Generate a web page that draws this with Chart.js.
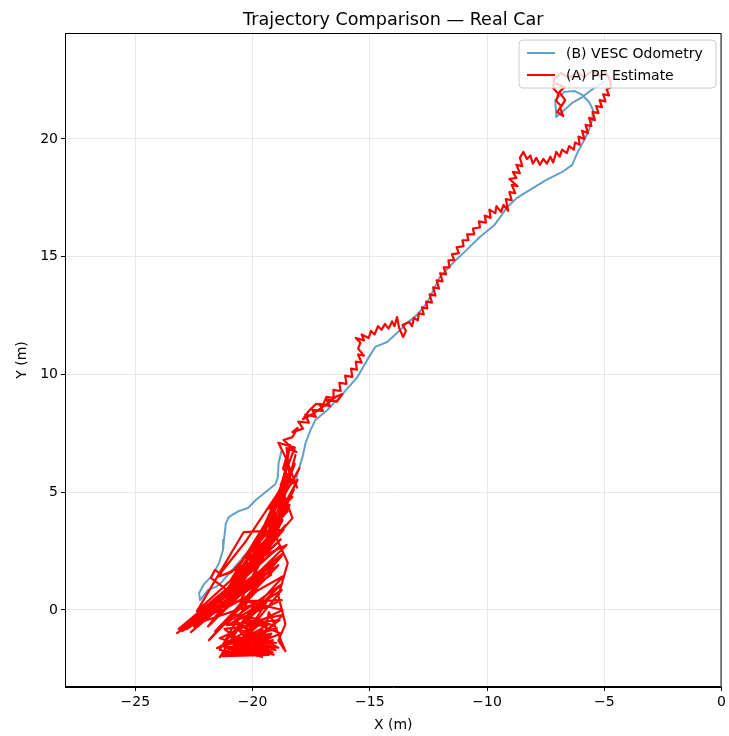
<!DOCTYPE html>
<html>
<head>
<meta charset="utf-8">
<script src="https://cdn.jsdelivr.net/npm/chart.js@4.4.0/dist/chart.umd.min.js"></script>
<style>
  html, body { margin: 0; padding: 0; background: #fff; }
  #wrap { width: 729px; height: 736px; }
</style>
</head>
<body>
<div id="wrap"><canvas id="chart" width="729" height="736"></canvas></div>
<script>
// axis ticks
const xTicks = [-25, -20, -15, -10, -5, 0];
const yTicks = [0, 5, 10, 15, 20];

// (B) VESC odometry, [x, y] in metres
const odomPath = [
  [-18.76, 6.79], [-18.89, 6.24], [-18.93, 5.61], [-19.02, 5.35], [-19.23, 5.18], [-19.86, 4.67],
  [-20.20, 4.33], [-20.59, 4.20], [-21.01, 3.95], [-21.14, 3.69], [-21.22, 2.97], [-21.26, 2.55],
  [-21.43, 2.00], [-21.69, 1.49], [-22.07, 1.10], [-22.28, 0.72], [-22.24, 0.42], [-21.90, 0.85],
  [-21.56, 0.98], [-21.31, 1.19], [-20.50, 2.12], [-19.65, 3.18], [-18.80, 4.25], [-18.25, 5.10],
  [-18.04, 5.94], [-17.87, 6.50], [-17.74, 7.09], [-17.53, 7.64], [-17.32, 8.07], [-16.81, 8.49],
  [-16.13, 9.21], [-15.53, 9.89], [-15.11, 10.62], [-14.77, 11.17], [-14.26, 11.38], [-13.84, 11.76],
  [-13.41, 12.19], [-12.99, 12.53], [-12.56, 13.04], [-12.01, 14.14], [-11.46, 14.73], [-10.87, 15.29],
  [-10.31, 15.84], [-9.68, 16.35], [-9.38, 16.77], [-9.17, 17.07], [-8.74, 17.49], [-8.19, 17.83],
  [-7.47, 18.26], [-6.79, 18.60], [-6.37, 18.90], [-6.15, 19.41], [-5.86, 19.96], [-5.65, 20.38],
  [-5.52, 20.81], [-5.48, 21.23], [-5.65, 21.57], [-5.94, 21.87], [-6.28, 22.04], [-6.71, 22.00],
  [-7.09, 21.66], [-7.05, 20.93], [-6.37, 21.53], [-5.94, 21.78], [-5.43, 22.17], [-5.01, 22.42]
];

// (A) particle filter estimate: the noisy start area, [x, y] in metres
const pfCluster = [
  [-21.3, -1.85], [-19.2, -1.55], [-21.1, -1.95], [-19.4, -1.3], [-20.7, -1.75], [-19.15, -1.8],
  [-20.9, -1.3], [-19.6, -1.65], [-21.2, -1.6], [-19.9, -1.45], [-20.4, -1.7], [-19.3, -1.2],
  [-20.1, -1.8], [-19.6, -2.0], [-20.8, -1.55], [-20.0, -1.2], [-21.0, -1.9], [-19.45, -0.95],
  [-20.3, -1.9], [-19.4, -1.5], [-20.9, -1.7], [-19.6, -1.2], [-21.3, -1.5], [-19.2, -1.0],
  [-20.6, -1.95], [-19.5, -1.8], [-21.0, -1.1], [-19.0, -1.4], [-20.4, -1.2], [-19.8, -1.95],
  [-21.2, -0.8], [-19.3, -0.6], [-20.7, -1.4], [-18.9, -1.6], [-20.2, -0.9], [-19.1, -1.9],
  [-21.4, -1.2], [-19.7, -0.4], [-20.8, -0.2], [-18.8, -1.0], [-20.0, -1.5], [-18.7, -0.2],
  [-20.5, -0.6], [-18.75, 1.1], [-21.6, -0.9], [-18.9, 1.9], [-22.5, -0.7], [-19.2, 1.5],
  [-23.0, -0.9], [-19.6, 1.3], [-22.7, -0.6], [-18.8, 3.0], [-22.1, -0.2], [-19.9, 1.9],
  [-23.15, -0.8], [-20.2, 0.9], [-22.4, -0.4], [-18.7, 2.4], [-21.9, -0.7], [-19.4, 2.6],
  [-21.3, 0.2], [-18.6, 3.6], [-21.0, 0.9], [-19.6, 3.2], [-20.4, 2.2], [-18.5, 4.2],
  [-20.9, 1.6], [-21.5, 1.4], [-20.3, 2.9], [-18.9, 5.0], [-19.9, 2.4], [-18.6, 5.6],
  [-19.5, 3.6], [-18.3, 4.8], [-19.3, 4.3], [-18.2, 6.2], [-18.9, 4.4], [-18.4, 7.0],
  [-18.7, 6.0], [-18.1, 5.2], [-18.6, 6.5], [-18.9, 7.1], [-18.2, 6.9], [-18.8, 5.3],
  [-18.3, 3.9], [-19.0, 3.1], [-18.5, 2.0], [-18.9, 0.6], [-18.6, -0.6], [-18.9, -1.3],
  [-18.6, -1.75], [-19.2, -0.3],
  [-19.31, -0.09], [-19.57, -1.62], [-20.50, -1.79], [-19.14, -1.28], [-21.27, -1.96], [-19.31, -1.91],
  [-21.01, -1.36], [-18.97, -0.77], [-21.52, -1.62], [-19.57, -0.51], [-21.40, -2.00], [-19.91, 0.25],
  [-22.20, -0.51], [-18.97, 2.04], [-22.80, -0.81], [-18.81, 2.72], [-23.22, -0.98], [-20.42, 1.14],
  [-22.97, -0.77], [-19.40, 1.87], [-22.63, -0.94], [-18.76, 2.29], [-21.86, -1.28], [-19.78, 0.85],
  [-21.44, -0.09], [-18.68, 1.44], [-21.18, -1.32], [-19.40, 0.34], [-20.84, -1.91], [-18.85, -0.43],
  [-21.10, -0.64], [-18.76, 0.42], [-21.61, 0.34], [-19.14, 2.97], [-21.99, -0.26], [-19.61, 2.46],
  [-22.37, -0.05], [-20.38, 3.31], [-18.68, 3.40], [-21.10, 0.51], [-18.64, 4.16], [-21.73, -0.51],
  [-19.19, 2.12], [-21.40, -1.70], [-20.08, -1.91], [-19.57, -0.85], [-20.29, -1.36], [-19.23, -1.11],
  [-20.59, -0.85], [-19.87, -1.70], [-20.16, -0.43], [-19.10, -0.64], [-19.74, -1.11], [-20.76, -0.43],
  [-18.76, 0.85], [-20.67, -1.49], [-19.02, -1.70], [-20.33, -0.77], [-18.72, 0.00], [-20.50, 0.42],
  [-18.72, 3.82], [-20.93, 1.27], [-18.85, 4.67], [-20.67, 0.76], [-18.42, 4.46], [-20.25, 1.70],
  [-18.68, 5.52], [-19.65, 2.12], [-18.25, 5.09], [-20.08, 1.27], [-18.55, 2.76], [-21.27, 1.48],
  [-21.61, 1.70], [-21.78, 1.36], [-21.10, 0.85], [-19.99, 2.55], [-18.30, 5.94], [-19.23, 3.40],
  [-18.08, 5.52], [-19.48, 2.76], [-18.51, 6.28], [-18.85, 4.03], [-18.17, 6.58], [-18.64, 4.88],
  [-18.00, 6.03], [-18.38, 5.31], [-18.55, 6.88], [-18.13, 6.71], [-18.68, 7.22], [-18.30, 7.34],
  [-18.08, 7.73]
];

// (A) particle filter estimate: the drive up to the top right, [x, y] in metres
const pfRoute = [
  [-18.30, 7.55], [-17.85, 7.70], [-18.05, 8.00], [-17.60, 7.95], [-17.75, 8.30], [-17.30, 8.20],
  [-17.45, 8.50], [-17.00, 8.45], [-17.15, 8.75], [-16.70, 8.65], [-16.85, 8.95], [-16.40, 8.85],
  [-16.17, 9.17], [-16.45, 9.05], [-16.90, 8.70], [-17.40, 8.35], [-17.85, 8.10], [-17.60, 8.45],
  [-17.30, 8.75], [-17.00, 8.70], [-16.85, 9.05], [-16.55, 9.00], [-16.55, 9.35], [-16.25, 9.30],
  [-16.30, 9.65], [-16.00, 9.60], [-16.05, 9.95], [-15.75, 9.90], [-15.80, 10.25], [-15.55, 10.20],
  [-15.60, 10.55], [-15.35, 10.50], [-15.50, 10.85], [-15.25, 10.80], [-15.50, 11.10], [-15.40, 11.35],
  [-15.60, 11.55], [-15.25, 11.45], [-15.35, 11.70], [-15.05, 11.55], [-14.95, 11.85], [-14.80, 11.70],
  [-14.65, 12.05], [-14.50, 11.90], [-14.35, 12.15], [-14.20, 11.95], [-14.05, 12.25], [-13.95, 12.05],
  [-13.84, 12.44], [-13.75, 11.97], [-13.58, 11.59], [-13.46, 11.85], [-13.60, 12.10], [-13.33, 12.23],
  [-13.20, 12.05], [-13.12, 12.40], [-12.95, 12.30], [-12.91, 12.60], [-12.70, 12.55], [-12.78, 12.85],
  [-12.55, 12.80], [-12.60, 13.10], [-12.35, 13.05], [-12.45, 13.40], [-12.20, 13.35], [-12.30, 13.70],
  [-12.05, 13.65], [-12.15, 14.00], [-11.90, 13.95], [-12.00, 14.30], [-11.75, 14.25], [-11.85, 14.55],
  [-11.60, 14.55], [-11.65, 14.85], [-11.40, 14.85], [-11.50, 15.10], [-11.20, 15.15], [-11.30, 15.40],
  [-11.00, 15.45], [-11.05, 15.70], [-10.80, 15.70], [-10.85, 15.95], [-10.55, 15.95], [-10.60, 16.20],
  [-10.30, 16.25], [-10.35, 16.50], [-10.05, 16.45], [-10.10, 16.75], [-9.85, 16.65], [-9.90, 17.00],
  [-9.65, 16.85], [-9.60, 17.15], [-9.40, 16.90], [-9.30, 17.20], [-9.10, 16.95], [-9.20, 17.45],
  [-8.95, 17.40], [-9.05, 17.75], [-8.80, 17.70], [-8.95, 18.05], [-8.70, 18.00], [-9.05, 18.30],
  [-8.75, 18.35], [-8.90, 18.60], [-8.60, 18.55], [-8.75, 18.90], [-8.50, 18.85], [-8.60, 19.20],
  [-8.45, 19.45], [-8.30, 19.15], [-8.15, 19.30], [-8.05, 18.95], [-7.90, 19.20], [-7.75, 18.90],
  [-7.60, 19.15], [-7.45, 18.95], [-7.30, 19.25], [-7.18, 19.00], [-7.05, 19.45], [-6.90, 19.25],
  [-6.80, 19.55], [-6.60, 19.40], [-6.50, 19.70], [-6.30, 19.55], [-6.25, 19.85], [-6.05, 19.75],
  [-6.10, 20.10], [-5.85, 20.00], [-5.95, 20.35], [-5.70, 20.25], [-5.80, 20.60], [-5.55, 20.55],
  [-5.65, 20.90], [-5.40, 20.80], [-5.50, 21.15], [-5.25, 21.10], [-5.35, 21.40], [-5.10, 21.35],
  [-5.20, 21.65], [-4.95, 21.60], [-5.05, 21.90], [-4.80, 21.85], [-4.90, 22.10], [-4.71, 22.21],
  [-4.76, 22.50], [-4.93, 22.80], [-5.22, 22.67], [-5.52, 22.89], [-5.86, 22.63], [-6.16, 22.84],
  [-6.50, 22.59], [-6.84, 22.80], [-7.13, 22.55], [-7.18, 22.16], [-6.96, 21.91], [-7.05, 21.61],
  [-6.84, 21.40], [-7.01, 21.14], [-6.75, 20.97], [-6.88, 21.31], [-6.67, 21.65], [-6.92, 21.99],
  [-6.70, 22.20], [-7.05, 22.35]
];

const legendItems = [
  { label: '(B) VESC Odometry', color: 'rgba(31,119,180,0.7)' },
  { label: '(A) PF Estimate', color: '#ff0000' }
];

const toPoints = (pairs) => pairs.map(p => ({ x: p[0], y: p[1] }));
const minusFmt = (v) => (v < 0 ? '\u2212' + Math.abs(v) : String(v));
const FONT = 'DejaVu Sans';

// matplotlib-like frame, title and in-axes legend
const decorations = {
  id: 'decorations',
  afterDraw(chart) {
    const { ctx, chartArea: a } = chart;
    ctx.save();
    ctx.strokeStyle = '#000';
    ctx.lineWidth = 1;
    ctx.strokeRect(a.left + 0.5, a.top + 0.5, a.right - a.left - 1, a.bottom - a.top - 1);

    ctx.fillStyle = '#000';
    ctx.font = '17.6px "' + FONT + '"';
    ctx.textAlign = 'center';
    ctx.textBaseline = 'middle';
    ctx.fillText('Trajectory Comparison \u2014 Real Car', (a.left + a.right) / 2, 20);

    // legend box
    const bx = 519, by = 40, bw = 197, bh = 48, r = 4;
    ctx.beginPath();
    ctx.moveTo(bx + r, by);
    ctx.arcTo(bx + bw, by, bx + bw, by + bh, r);
    ctx.arcTo(bx + bw, by + bh, bx, by + bh, r);
    ctx.arcTo(bx, by + bh, bx, by, r);
    ctx.arcTo(bx, by, bx + bw, by, r);
    ctx.closePath();
    ctx.fillStyle = 'rgba(255,255,255,0.8)';
    ctx.fill();
    ctx.strokeStyle = '#cccccc';
    ctx.stroke();

    ctx.font = '14px "' + FONT + '"';
    ctx.textAlign = 'left';
    legendItems.forEach((item, i) => {
      const y = by + 13 + i * 22;
      ctx.beginPath();
      ctx.moveTo(bx + 8, y);
      ctx.lineTo(bx + 36, y);
      ctx.strokeStyle = item.color;
      ctx.lineWidth = 2;
      ctx.stroke();
      ctx.fillStyle = '#000';
      ctx.fillText(item.label, bx + 47, y + 1);
    });
    ctx.restore();
  }
};

new Chart(document.getElementById('chart'), {
  type: 'scatter',
  data: {
    datasets: [
      {
        label: '(A) PF Estimate',
        data: toPoints(pfCluster.concat(pfRoute)),
        showLine: true,
        borderColor: '#ff0000',
        borderWidth: 2.2,
        pointRadius: 0,
        borderJoinStyle: 'round',
        borderCapStyle: 'round',
        order: 0
      },
      {
        label: '(B) VESC Odometry',
        data: toPoints(odomPath),
        showLine: true,
        borderColor: 'rgba(31,119,180,0.7)',
        borderWidth: 2,
        pointRadius: 0,
        borderJoinStyle: 'round',
        borderCapStyle: 'round',
        order: 1
      }
    ]
  },
  options: {
    responsive: false,
    animation: false,
    layout: { padding: { top: 33, right: 6, left: 0, bottom: 0 } },
    plugins: {
      legend: { display: false },
      title: { display: false },
      tooltip: { enabled: false }
    },
    scales: {
      x: {
        type: 'linear',
        min: -28,
        max: 0,
        afterBuildTicks: (s) => { s.ticks = xTicks.map(v => ({ value: v })); },
        afterFit: (s) => { s.height = 49; },
        grid: { color: '#e8e8e8', tickColor: '#000', tickLength: 4 },
        border: { color: '#000' },
        ticks: { color: '#000', font: { family: FONT, size: 14 }, padding: 3, maxRotation: 0, callback: minusFmt },
        title: { display: true, text: 'X (m)', color: '#000', font: { family: FONT, size: 14 }, padding: { top: 0, bottom: 2 } }
      },
      y: {
        type: 'linear',
        min: -3.27,
        max: 24.5,
        afterBuildTicks: (s) => { s.ticks = yTicks.map(v => ({ value: v })); },
        afterFit: (s) => { s.width = 65; },
        grid: { color: '#e8e8e8', tickColor: '#000', tickLength: 4 },
        border: { color: '#000' },
        ticks: { color: '#000', font: { family: FONT, size: 14 }, padding: 3, callback: minusFmt },
        title: { display: true, text: 'Y (m)', color: '#000', font: { family: FONT, size: 14 }, padding: { top: 14, bottom: 0 } }
      }
    }
  },
  plugins: [decorations]
});
</script>
</body>
</html>
